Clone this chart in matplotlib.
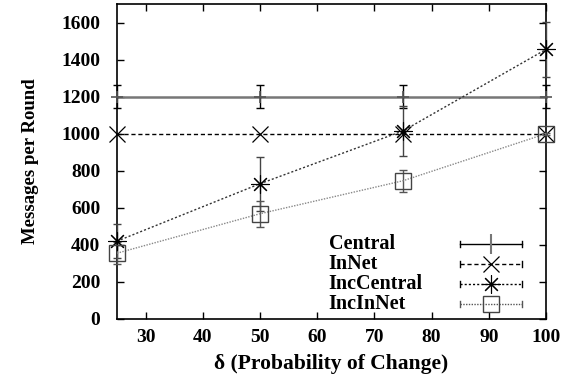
import matplotlib
matplotlib.use("Agg")
import matplotlib.pyplot as plt
from matplotlib.lines import Line2D

plt.rcParams['font.family'] = ['Liberation Serif', 'DejaVu Serif']
plt.rcParams['font.weight'] = 'bold'

delta = [25, 50, 75, 100]
central = [1200, 1200, 1200, 1200]
central_err = [62, 62, 62, 62]
innet = [1000, 1000, 1000, 1000]
inccentral = [420, 730, 1015, 1455]
inccentral_err = [93, 145, 135, 150]
incinnet = [355, 568, 746, 1000]
incinnet_err = [60, 70, 60, 5]

xticks = [30, 40, 50, 60, 70, 80, 90, 100]
yticks = [0, 200, 400, 600, 800, 1000, 1200, 1400, 1600]
labels = ['Central', 'InNet', 'IncCentral', 'IncInNet']

fig = plt.figure(figsize=(5.8, 3.84), dpi=100)
ax = fig.add_axes([0.2017, 0.1693, 0.7397, 0.8203])

# Central
ax.plot(delta, central, color='#777777', lw=1.8, zorder=2, clip_on=False)
ax.errorbar(delta, central, yerr=central_err, fmt='none', ecolor='black', elinewidth=1.0,
            capsize=3, capthick=1.0, zorder=3, clip_on=False)
ax.plot(delta, central, ls='none', marker='+', ms=9, mew=1.2, color='#555555', zorder=3, clip_on=False)

# InNet
ax.plot(delta, innet, color='black', lw=1.0, ls=(0, (3, 2)), marker='x', ms=12, mew=0.9,
        zorder=3, clip_on=False)

# IncCentral
ax.errorbar(delta, inccentral, yerr=inccentral_err, fmt='none', ecolor='#444444', elinewidth=1.0,
            capsize=3, capthick=1.0, ls=':', zorder=3, clip_on=False)
ax.plot(delta, inccentral, color='#333333', lw=1.0, ls=(0, (1.5, 1.5)), marker=(8, 2, 0), ms=13, mew=0.8,
        mfc='black', mec='black', zorder=4, clip_on=False)

# IncInNet
ax.errorbar(delta, incinnet, yerr=incinnet_err, fmt='none', ecolor='#555555', elinewidth=1.0,
            capsize=3, capthick=1.0, zorder=3, clip_on=False)
ax.plot(delta, incinnet, color='#888888', lw=1.0, ls=(0, (1, 1)), marker='s', ms=11, mew=1.0,
        mfc='none', mec='#444444', zorder=4, clip_on=False)

ax.set_xlim(25, 100)
ax.set_ylim(0, 1700)
ax.set_xticks(xticks)
ax.set_yticks(yticks)
ax.tick_params(direction='in', top=True, right=True, length=5, width=1.0, labelsize=14)
ax.tick_params(axis='y', pad=12)
ax.tick_params(axis='x', pad=7)
for lab in ax.get_xticklabels() + ax.get_yticklabels():
    lab.set_fontweight('bold')
for s in ax.spines.values():
    s.set_linewidth(1.2)

ax.set_xlabel('δ (Probability of Change)', fontsize=15.5, fontweight='bold', labelpad=6)
ax.set_ylabel('Messages per Round', fontsize=13.5, fontweight='bold', labelpad=16)

# Legend (gnuplot style: text on the left, sample on the right)
styles = [
    dict(color='black', ls='-', lw=1.0, marker='|', ms=14, mew=1.5, mec='#777777'),
    dict(color='black', ls=(0, (3, 2)), lw=1.0, marker='x', ms=12, mew=0.9, mec='black'),
    dict(color='black', ls=(0, (1.5, 1.5)), lw=1.0, marker=(8, 2, 0), ms=13, mew=0.8, mec='black'),
    dict(color='#555555', ls=(0, (1, 1)), lw=1.0, marker='s', ms=11, mew=1.0, mec='#444444', mfc='none'),
]
x0 = (329 - 117) / 430
xs0 = (461 - 117) / 430
xs1 = (523 - 117) / 430
xm = (492 - 117) / 430
rows_px = [244, 264, 284, 304]
for lab, st, rp in zip(labels, styles, rows_px):
    yy = (319 - rp) / 315
    ax.text(x0, yy, lab, transform=ax.transAxes, fontsize=14.5, fontweight='bold',
            ha='left', va='center')
    mk = {k: st[k] for k in ('marker', 'ms', 'mew', 'mec') if k in st}
    if 'mfc' in st:
        mk['mfc'] = st['mfc']
    ax.add_line(Line2D([xs0, xs1], [yy, yy], transform=ax.transAxes, color=st['color'],
                       ls=st['ls'], lw=st['lw']))
    for xe in (xs0, xs1):
        ax.add_line(Line2D([xe, xe], [yy - 0.01, yy + 0.01], transform=ax.transAxes,
                           color=st['color'], lw=1.0))
    ax.add_line(Line2D([xm], [yy], transform=ax.transAxes, ls='none', **mk))

fig.savefig('out.png', dpi=100)
